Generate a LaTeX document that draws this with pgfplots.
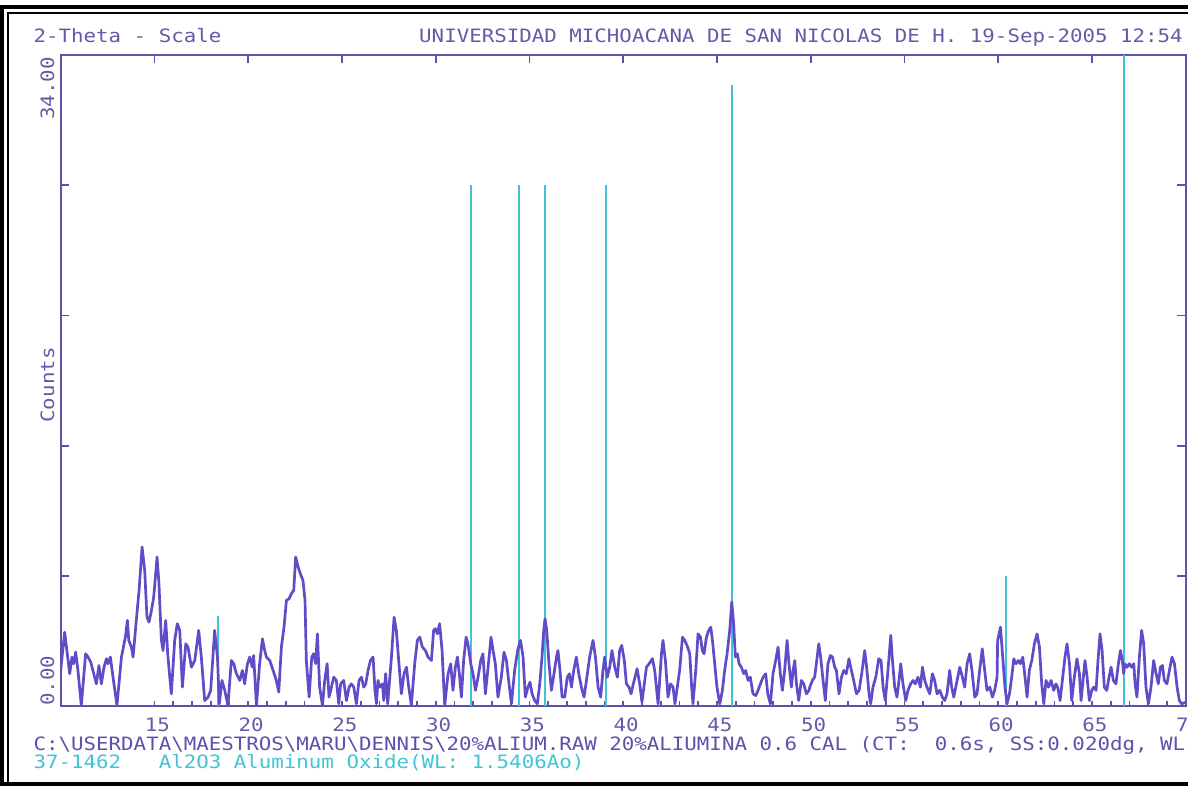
\documentclass[border=0pt]{standalone}
\usepackage{pgfplots}
\pgfplotsset{compat=1.18}
\usepackage{pgfplotstable}
\usepackage{fontspec}
\newfontfamily\plotfont{DejaVu Sans Mono}[FakeStretch=1.13]
\newcommand\pf{\plotfont\fontsize{9.2}{11}\selectfont\frenchspacing}

\definecolor{axcol}{RGB}{92,82,172}
\definecolor{txtcol}{RGB}{100,90,168}
\definecolor{datcol}{RGB}{98,74,200}
\definecolor{stkcol}{RGB}{64,196,214}

% measured pattern, 2-theta vs counts
\pgfplotstableread{
x y
10.00 1.88
10.21 3.88
10.48 1.71
10.60 2.58
10.69 2.23
10.80 2.84
10.92 1.88
11.10 0.05
11.33 2.75
11.46 2.58
11.60 2.32
11.72 1.88
11.90 1.18
12.04 2.14
12.17 1.18
12.31 2.05
12.44 2.49
12.52 2.23
12.65 2.58
12.79 1.53
13.00 0.05
13.24 2.58
13.45 3.62
13.56 4.49
13.63 3.45
13.77 3.10
13.86 2.58
14.04 4.58
14.18 6.06
14.34 8.32
14.48 7.10
14.60 4.66
14.71 4.40
14.84 5.01
14.96 5.71
15.14 7.80
15.24 6.41
15.37 3.45
15.46 2.92
15.60 4.49
15.72 2.58
15.90 0.66
16.08 3.45
16.22 4.32
16.35 3.97
16.49 1.01
16.67 3.27
16.79 3.10
16.97 2.05
17.15 2.40
17.36 3.97
17.50 2.58
17.68 0.31
17.86 0.49
18.00 0.84
18.21 3.97
18.36 2.58
18.46 0.14
18.60 1.36
18.75 0.84
18.92 0.05
19.10 2.40
19.23 2.23
19.37 1.71
19.55 1.36
19.69 1.88
19.81 1.18
19.96 2.23
20.08 2.58
20.22 2.05
20.29 2.66
20.44 0.05
20.61 2.23
20.76 3.53
20.88 2.92
20.97 2.58
21.15 2.40
21.33 1.88
21.50 1.36
21.63 0.75
21.77 3.10
21.91 4.14
22.04 5.54
22.18 5.62
22.30 5.88
22.43 6.06
22.53 7.80
22.66 7.28
22.78 6.93
22.92 6.58
23.03 5.54
23.10 2.40
23.25 0.49
23.39 2.58
23.49 2.75
23.60 2.23
23.69 3.79
23.81 1.01
23.96 0.05
24.08 1.36
24.21 2.23
24.31 0.49
24.44 1.01
24.56 1.53
24.70 1.36
24.83 0.14
24.93 1.18
25.09 1.36
25.24 0.31
25.38 1.01
25.50 1.18
25.63 1.01
25.77 0.14
25.91 1.36
26.04 1.53
26.16 1.01
26.27 1.18
26.39 1.88
26.52 2.40
26.66 2.58
26.76 0.84
26.84 0.14
26.92 1.36
27.01 1.01
27.16 1.18
27.23 0.31
27.33 1.71
27.44 0.14
27.64 2.58
27.78 4.66
27.90 3.97
28.04 2.23
28.17 0.66
28.31 1.71
28.44 2.05
28.54 1.18
28.70 0.05
28.88 2.23
29.02 3.45
29.15 3.62
29.29 3.10
29.45 2.92
29.59 2.58
29.77 2.40
29.89 3.97
29.98 4.06
30.09 3.79
30.21 4.32
30.34 2.92
30.48 0.05
30.66 1.71
30.80 2.23
30.92 0.84
31.05 2.05
31.16 2.58
31.26 1.71
31.37 0.49
31.49 2.40
31.62 3.62
31.72 3.27
31.87 2.23
31.99 1.71
32.12 0.84
32.26 1.53
32.40 2.40
32.52 2.75
32.65 0.66
32.83 2.40
32.95 3.62
33.06 2.92
33.18 2.23
33.32 0.49
33.50 1.53
33.64 2.84
33.77 2.40
33.91 1.18
34.04 0.14
34.21 1.88
34.37 2.92
34.52 3.45
34.66 2.58
34.78 0.49
34.92 1.01
35.03 1.27
35.14 0.66
35.28 0.31
35.42 0.14
35.55 1.18
35.67 2.58
35.76 3.97
35.83 4.58
35.92 3.97
36.03 2.40
36.17 0.84
36.31 1.71
36.44 2.58
36.52 2.92
36.63 1.88
36.74 0.49
36.88 0.49
37.02 1.53
37.13 1.71
37.24 1.01
37.36 1.88
37.50 2.58
37.63 1.71
37.77 1.01
37.91 0.49
38.04 1.36
38.21 2.58
38.39 3.45
38.52 2.58
38.66 1.01
38.80 0.49
38.92 1.88
39.01 2.58
39.15 1.53
39.28 2.05
39.40 2.92
39.55 2.05
39.69 1.53
39.81 2.92
39.92 3.19
40.06 2.40
40.17 1.18
40.31 1.01
40.42 0.66
40.52 1.10
40.74 1.97
40.88 1.18
41.00 0.23
41.24 2.05
41.38 2.23
41.56 2.49
41.68 1.88
41.86 0.14
42.04 2.75
42.12 3.45
42.25 2.40
42.39 0.49
42.52 1.18
42.66 1.01
42.76 0.14
43.01 1.88
43.16 3.62
43.28 3.45
43.40 3.19
43.55 2.75
43.64 1.18
43.72 0.14
43.87 1.88
43.99 3.79
44.12 3.62
44.22 2.92
44.31 2.75
44.44 3.62
44.56 3.97
44.67 4.14
44.76 3.45
44.88 2.23
45.00 1.01
45.15 0.14
45.29 0.84
45.41 1.88
45.54 2.75
45.68 3.97
45.79 5.45
45.89 4.32
45.98 2.58
46.09 2.75
46.18 2.23
46.30 2.05
46.43 1.71
46.53 1.88
46.66 1.36
46.78 1.53
46.92 0.66
47.07 0.57
47.19 0.84
47.32 1.18
47.46 1.53
47.60 1.71
47.71 0.66
47.85 0.14
47.99 1.71
48.13 2.40
48.26 3.10
48.38 1.71
48.49 0.84
48.61 1.88
48.74 3.45
48.84 2.23
48.97 1.01
49.06 1.88
49.15 2.40
49.24 1.18
49.36 0.31
49.50 1.36
49.63 1.18
49.77 0.66
49.91 0.84
49.95 1.01
50.09 1.36
50.21 1.53
50.30 2.23
50.43 3.27
50.53 2.58
50.66 1.36
50.78 0.31
50.92 2.23
51.05 2.66
51.16 2.58
51.28 2.05
51.37 1.88
51.51 0.66
51.64 1.53
51.76 1.88
51.90 1.71
52.04 2.49
52.17 1.88
52.29 1.36
52.44 0.66
52.58 0.84
52.72 1.71
52.88 2.92
53.00 1.88
53.11 0.66
53.20 0.14
53.32 1.01
53.47 1.53
53.63 2.49
53.75 2.40
53.86 1.01
53.98 0.31
54.12 1.88
54.27 3.71
54.36 2.40
54.48 1.01
54.60 0.49
54.71 1.36
54.80 2.23
54.92 1.18
55.07 0.31
55.19 0.84
55.33 1.18
55.46 1.36
55.58 1.18
55.72 1.53
55.85 1.01
55.96 2.05
56.08 1.36
56.20 1.01
56.35 0.66
56.49 1.71
56.61 1.36
56.74 0.66
56.88 0.84
57.02 0.49
57.15 0.31
57.27 0.66
57.41 1.88
57.52 1.01
57.63 0.49
57.77 1.18
57.95 2.05
58.09 1.53
58.21 1.01
58.34 2.23
58.48 2.75
58.60 1.88
58.75 0.49
58.87 0.66
59.01 1.88
59.15 3.01
59.28 1.88
59.40 0.84
59.55 1.01
59.69 0.49
59.81 0.84
59.94 1.53
59.97 3.45
60.12 4.14
60.24 2.58
60.36 1.01
60.47 0.14
60.60 0.66
60.72 1.53
60.83 2.49
60.95 2.23
61.08 2.40
61.18 2.23
61.31 2.58
61.43 1.53
61.54 0.49
61.66 1.88
61.79 2.40
61.93 3.27
62.07 3.79
62.20 3.10
62.32 1.18
62.43 0.14
62.55 1.36
62.68 1.01
62.82 1.36
62.96 0.84
63.08 1.18
63.17 1.01
63.30 0.31
63.44 1.53
63.56 2.58
63.67 3.27
63.80 2.23
63.92 0.31
64.06 1.53
64.20 2.49
64.33 1.71
64.42 0.31
64.54 1.53
64.63 2.40
64.74 1.53
64.86 0.31
64.99 0.84
65.09 1.01
65.22 0.84
65.31 2.23
65.43 3.79
65.54 2.92
65.66 1.01
65.79 0.84
65.91 1.53
66.02 2.05
66.14 1.36
66.28 1.18
66.41 2.23
66.52 2.92
66.62 2.40
66.69 1.71
66.76 2.23
66.87 2.05
66.99 2.23
67.12 2.05
67.23 2.23
67.30 1.18
67.40 0.49
67.53 2.58
67.65 3.97
67.76 3.27
67.88 1.01
68.01 0.14
68.15 1.01
68.29 2.40
68.42 1.71
68.54 1.18
68.65 2.05
68.76 2.14
68.86 1.36
69.00 1.18
69.13 1.88
69.27 2.58
69.40 2.23
69.54 1.01
69.66 0.31
69.79 0.14
70.00 0.23
}\scan

% reference lines, 37-1462 Al2O3
\pgfplotstableread{
x y
18.41 4.72
31.90 27.2
34.44 27.2
35.85 27.2
39.10 27.2
45.79 32.4
60.42 6.8
66.69 34.0
}\card

\begin{document}
\begin{tikzpicture}
% double border
\draw[black, line width=2pt] (610pt,389.4pt) -- (1.15pt,389.4pt) -- (1.15pt,1pt) -- (610pt,1pt);
\draw[black, line width=0.9pt] (610pt,386.6pt) -- (3.9pt,386.6pt) -- (3.9pt,1pt);

% ticks on the top edge and on both sides
\begin{axis}[
  at={(30.35pt,39.75pt)}, anchor=south west,
  scale only axis, width=562.5pt, height=325.9pt,
  xmin=10, xmax=70, ymin=0, ymax=34,
  axis line style={draw=none},
  tick align=inside,
  xtick={15,20,...,65}, xtick pos=top, xticklabels={},
  ytick={6.8,13.6,20.4,27.2}, ytick pos=both, yticklabels={},
  major tick length=4.2pt,
  tick style={axcol, line width=0.8pt},
]
\end{axis}

\begin{axis}[
  at={(30.35pt,39.75pt)}, anchor=south west,
  scale only axis, width=562.5pt, height=325.9pt,
  xmin=10, xmax=70, ymin=0, ymax=34,
  axis line style={axcol, line width=1pt},
  tick align=inside,
  xtick={15,20,...,70}, minor x tick num=4, xtick pos=bottom,
  xticklabels={15,20,25,30,35,40,45,50,55,60,65,70},
  xticklabel style={font=\pf, text=txtcol, anchor=base, inner sep=0pt, yshift=-12.75pt, xshift=1.5pt},
  ytick=\empty,
  major tick length=2.6pt, minor tick length=2.6pt,
  tick style={axcol, line width=0.8pt},
]
\addplot[stkcol, ycomb, line width=1pt, no markers] table[x=x, y=y] {\card};
\addplot[datcol, line width=1.35pt, line join=round, no markers] table[x=x, y=y] {\scan};
\end{axis}

% header and axis texts
\node[anchor=base west, inner sep=0pt, text=txtcol, font=\pf] at (16.6pt,371.5pt) {2-Theta - Scale};
\node[anchor=base east, inner sep=0pt, text=txtcol, font=\pf] at (591.6pt,371.5pt) {UNIVERSIDAD MICHOACANA DE SAN NICOLAS DE H. 19-Sep-2005 12:54};
\node[anchor=base east, rotate=90, inner sep=0pt, text=txtcol, font=\pf] at (27pt,364.5pt) {34.00};
\node[anchor=base west, rotate=90, inner sep=0pt, text=txtcol, font=\pf] at (27pt,40pt) {0.00};
\node[anchor=base, rotate=90, inner sep=0pt, text=txtcol, font=\pf] at (27pt,200.5pt) {Counts};

% footer
\node[anchor=base west, inner sep=0pt, text=axcol, font=\pf] at (16.6pt,17.6pt)
  {C:\textbackslash USERDATA\textbackslash MAESTROS\textbackslash MARU\textbackslash DENNIS\textbackslash 20\%ALIUM.RAW 20\%ALIUMINA 0.6 CAL (CT:~~0.6s, SS:0.020dg, WL: 1.5406Ao)};
\node[anchor=base west, inner sep=0pt, text=stkcol, font=\pf] at (16.6pt,8.8pt)
  {37-1462~~~Al2O3 Aluminum Oxide(WL: 1.5406Ao)};

\pgfresetboundingbox
\useasboundingbox (0pt,0pt) rectangle (594pt,393pt);
\end{tikzpicture}
\end{document}
